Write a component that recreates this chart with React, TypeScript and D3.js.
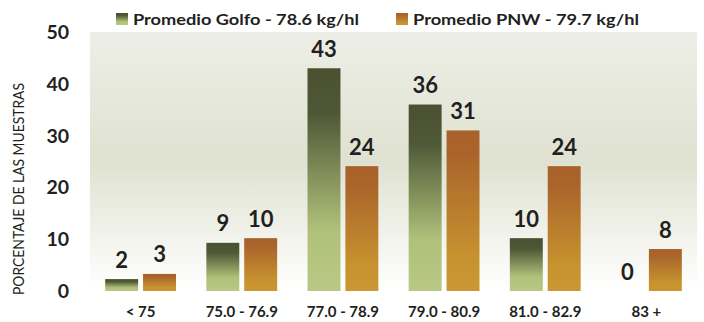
import React from "react";
import * as d3 from "d3";

const categories = ["< 75", "75.0 - 76.9", "77.0 - 78.9", "79.0 - 80.9", "81.0 - 82.9", "83 +"];
const golfoValues = [2.3, 9.3, 43, 36, 10.2, 0];
const pnwValues = [3.3, 10.2, 24.1, 31, 24.1, 8.1];
const seriesNames = ["Promedio Golfo - 78.6 kg/hl", "Promedio PNW - 79.7 kg/hl"];
const yTicks = [0, 10, 20, 30, 40, 50];
const yTitle = "PORCENTAJE DE LAS MUESTRAS";

const W = 704;
const H = 322;
const FONT = "Lato, 'Open Sans', sans-serif";
const TXT = "#231f20";

export default function App() {
  const x0 = d3.scaleBand<string>().domain(categories).range([90, 697]).paddingInner(0.3).paddingOuter(0.15);
  const x1 = d3.scaleBand<number>().domain([0, 1]).range([0, x0.bandwidth()]).paddingInner(0.13);
  const y = d3.scaleLinear().domain([0, 50]).range([291, 32]);
  const fmt = d3.format(".0f");
  const series = [golfoValues, pnwValues];
  const grads = ["gGolfo", "gPnw"];

  return (
    <svg width={W} height={H} style={{ position: "absolute", left: 0, top: 0, background: "#fff" }}>
      <defs>
        <linearGradient id="bg" x1="0" y1="0" x2="0" y2="1">
          <stop offset="0" stopColor="#edeee6" />
          <stop offset="0.5" stopColor="#dfe2d1" />
          <stop offset="1" stopColor="#ffffff" />
        </linearGradient>
        <linearGradient id="gGolfo" x1="0" y1="0" x2="0" y2="1">
          <stop offset="0" stopColor="#4a5131" />
          <stop offset="0.2" stopColor="#4e5736" />
          <stop offset="0.72" stopColor="#afc079" />
          <stop offset="1" stopColor="#b9c985" />
        </linearGradient>
        <linearGradient id="gPnw" x1="0" y1="0" x2="0" y2="1">
          <stop offset="0" stopColor="#a8612b" />
          <stop offset="0.15" stopColor="#aa642b" />
          <stop offset="0.8" stopColor="#c7932f" />
          <stop offset="1" stopColor="#c99733" />
        </linearGradient>
      </defs>

      <rect x={90} y={y(50)} width={607} height={y(0) - y(50)} fill="url(#bg)" />

      {/* y axis labels */}
      {yTicks.map((t) => (
        <text key={t} x={69} y={y(t)} dy="0.36em" textAnchor="end" fontFamily={FONT} fontWeight={700} fontSize={19.5} fill={TXT}>
          {t}
        </text>
      ))}

      <text
        transform={`translate(24, 189) rotate(-90)`}
        textAnchor="middle"
        fontFamily={FONT}
        fontSize={15}
        fill={TXT}
        textLength={212}
        lengthAdjust="spacingAndGlyphs"
      >
        {yTitle}
      </text>

      {/* bars */}
      {categories.map((c, i) => (
        <g key={c} transform={`translate(${x0(c)},0)`}>
          {series.map((vals, s) => {
            const v = vals[i];
            const bx = x1(s) as number;
            return (
              <g key={s}>
                {v > 0 && (
                  <rect x={bx} y={y(v)} width={x1.bandwidth()} height={y(0) - y(v)} fill={`url(#${grads[s]})`} />
                )}
                <text
                  x={bx + x1.bandwidth() / 2}
                  y={y(v) - 11.5}
                  textAnchor="middle"
                  fontFamily={FONT}
                  fontWeight={700}
                  fontSize={22}
                  fill={TXT}
                >
                  {fmt(v)}
                </text>
              </g>
            );
          })}
          <text
            x={x0.bandwidth() / 2}
            y={317}
            textAnchor="middle"
            fontFamily={FONT}
            fontWeight={700}
            fontSize={15}
            fill={TXT}
          >
            {c}
          </text>
        </g>
      ))}

      {/* legend */}
      {seriesNames.map((n, s) => {
        const lx = [116, 396][s];
        return (
          <g key={n}>
            <rect x={lx} y={13} width={12} height={12} fill={`url(#${grads[s]})`} />
            <text
              x={lx + 17}
              y={24.5}
              fontFamily={FONT}
              fontWeight={700}
              fontSize={16}
              fill={TXT}
              textLength={226}
              lengthAdjust="spacingAndGlyphs"
            >
              {n}
            </text>
          </g>
        );
      })}
    </svg>
  );
}
